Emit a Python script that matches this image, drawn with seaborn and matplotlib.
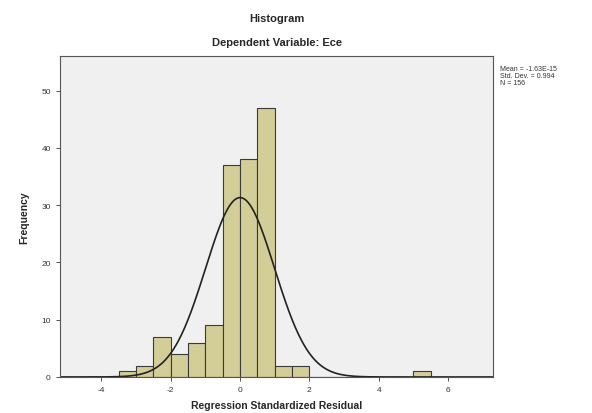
import numpy as np
import pandas as pd
import matplotlib
matplotlib.use("Agg")
import matplotlib.pyplot as plt
import seaborn as sns

# Data
bin_edges = [-3.5, -3.0, -2.5, -2.0, -1.5, -1.0, -0.5, 0.0, 0.5, 1.0, 1.5, 2.0,
             2.5, 3.0, 3.5, 4.0, 4.5, 5.0, 5.5, 6.0]
counts = [1, 2, 7, 4, 6, 9, 37, 38, 47, 2, 2, 0, 0, 0, 0, 0, 0, 1, 0]
mean_val = -1.63e-15
std_val = 0.994
n_val = 156
x_ticks = [-4, -2, 0, 2, 4, 6]
y_ticks = [0, 10, 20, 30, 40, 50]

sns.set_style("white")
plt.rcParams['font.family'] = ['Liberation Sans', 'DejaVu Sans']

centers = [(bin_edges[i] + bin_edges[i + 1]) / 2 for i in range(len(counts))]
df = pd.DataFrame({"x": centers, "w": counts})

fig = plt.figure(figsize=(5.92, 4.14), dpi=100)
ax = fig.add_axes([0.101, 0.087, 0.732, 0.775])
ax.set_facecolor("#F0F0F0")

sns.histplot(data=df, x="x", weights="w", bins=bin_edges, ax=ax,
             color="#D3CE97", edgecolor="#3a3a3a", linewidth=0.8, alpha=1.0)

# fitted normal curve
xs = np.linspace(-5.2, 7.3, 400)
bw = bin_edges[1] - bin_edges[0]
ys = n_val * bw * np.exp(-0.5 * ((xs - mean_val) / std_val) ** 2) / (std_val * np.sqrt(2 * np.pi))
sns.lineplot(x=xs, y=ys, ax=ax, color="#222222", linewidth=1.2)

ax.set_xlim(-5.2, 7.3)
ax.set_ylim(0, 56)
ax.set_xticks(x_ticks)
ax.set_xticklabels([str(t) for t in x_ticks])
ax.set_yticks(y_ticks)
ax.set_yticklabels([str(t) for t in y_ticks])
ax.tick_params(axis="both", labelsize=6, length=3, width=0.6, color="#333333",
               direction="out", bottom=True, left=True, colors="#333333")
for s in ax.spines.values():
    s.set_color("#555555")
    s.set_linewidth(0.8)

ax.set_xlabel("Regression Standardized Residual", fontsize=7.5, fontweight="bold", labelpad=5)
ax.set_ylabel("Frequency", fontsize=7.5, fontweight="bold", labelpad=9)

fig.text(0.468, 0.955, "Histogram", ha="center", va="center", fontsize=8, fontweight="bold")
fig.text(0.468, 0.895, "Dependent Variable: Ece", ha="center", va="center", fontsize=8, fontweight="bold")
fig.text(0.845, 0.84, "Mean = -1.63E-15\nStd. Dev. = 0.994\nN = 156", ha="left", va="top",
         fontsize=5, linespacing=1.0, color="#333333")

fig.savefig("out.png", dpi=100, facecolor="white")
